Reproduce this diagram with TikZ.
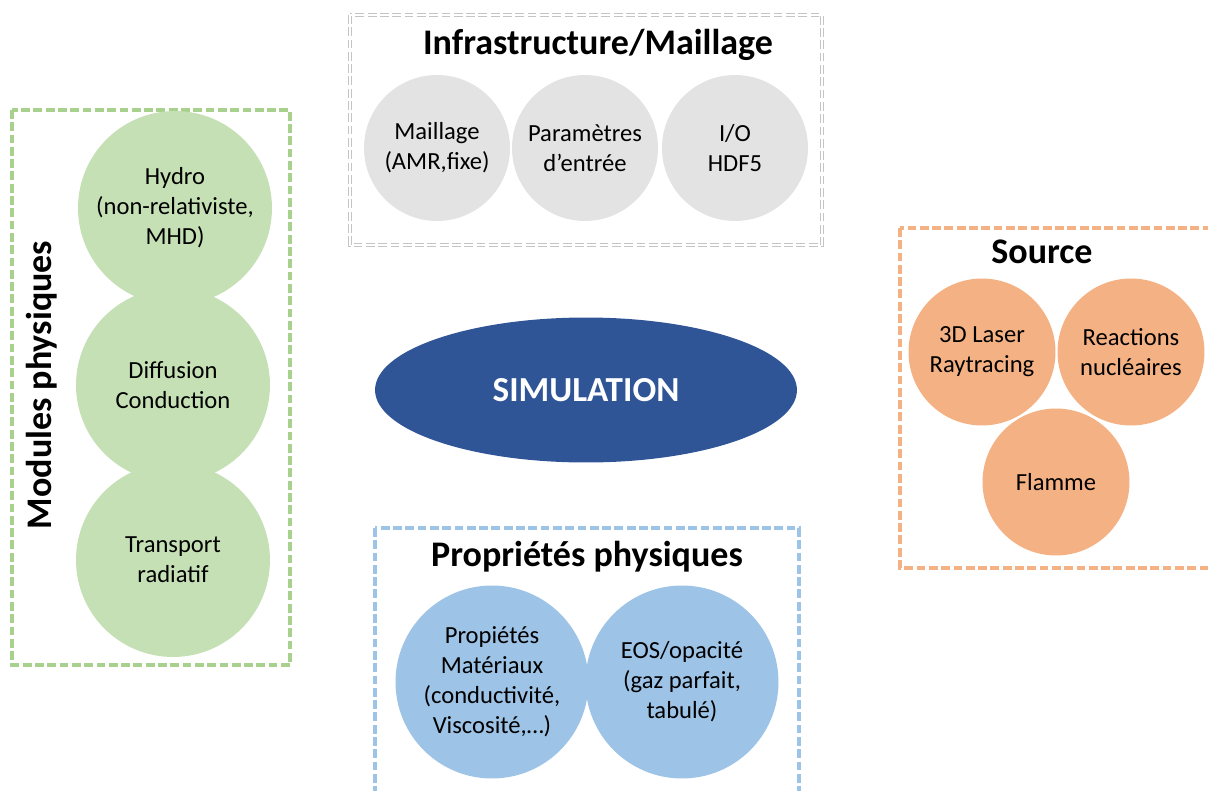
\documentclass[tikz,border=0pt]{standalone}
\usepackage{fontspec}
\setmainfont{Carlito}
\usetikzlibrary{shapes.geometric}
\definecolor{boxgray}{HTML}{C4C4C4}
\definecolor{fillgray}{HTML}{E3E3E3}
\definecolor{boxgreen}{HTML}{A9D18E}
\definecolor{fillgreen}{HTML}{C5E0B4}
\definecolor{fillorange}{HTML}{F4B183}
\definecolor{boxorange}{HTML}{F4B183}
\definecolor{fillblue}{HTML}{9DC3E6}
\definecolor{simblue}{HTML}{2F5597}
\tikzset{
	bubble/.style={circle, inner sep=0pt, align=center, font=\fontsize{14}{17}\selectfont},
	frame/.style={line width=2pt, dash pattern=on 5pt off 2pt},
	heading/.style={font=\fontsize{20.5}{22}\selectfont\bfseries},
}

\begin{document}
\begin{tikzpicture}[x=0.02cm, y=-0.02cm]
	\useasboundingbox (0,0) rectangle (1208,791);
	% cadres
	\draw [frame, draw=boxgray, line width=0.9pt, double=white, double distance=1pt] (350,15) rectangle (822,245);
	\draw [frame, draw=boxgreen] (12,110) rectangle (290,665);
	\draw [frame, draw=boxorange] (900,228) rectangle (1220,568);
	\draw [frame, draw=fillblue] (375,528) rectangle (799,800);
	% titres
	\node [heading] (tinfra) at (598,45) {Infrastructure/Maillage};
	\node [heading] (tsource) at (1042,252) {Source};
	\node [heading] (tprop) at (587,557) {Propriétés physiques};
	\node [heading, rotate=90] (tmod) at (42,385) {Modules physiques};
	% infrastructure
	\node [bubble, fill=fillgray, minimum size=2.92cm] (mesh) at (437,148) {Maillage\\(AMR,fixe)};
	\node [bubble, fill=fillgray, minimum size=2.92cm] (param) at (585,148) {Paramètres\\d’entrée};
	\node [bubble, fill=fillgray, minimum size=2.92cm] (io) at (735,148) {I/O\\HDF5};
	% modules physiques
	\node [bubble, fill=fillgreen, minimum size=3.88cm] (hydro) at (175,208) {Hydro\\(non-relativiste,\\MHD)};
	\node [bubble, fill=fillgreen, minimum size=3.88cm] (diff) at (173,385) {Diffusion\\Conduction};
	\node [bubble, fill=fillgreen, minimum size=3.88cm] (transp) at (173,560) {Transport\\radiatif};
	% source
	\node [bubble, fill=fillorange, minimum size=2.94cm] (laser) at (982,352) {3D Laser\\Raytracing};
	\node [bubble, fill=fillorange, minimum size=2.94cm] (react) at (1131,352) {Reactions\\nucléaires};
	\node [bubble, fill=fillorange, minimum size=2.94cm] (flamme) at (1056,482) {Flamme};
	% proprietes
	\node [bubble, fill=fillblue, minimum size=3.86cm] (mat) at (492,682) {Propiétés\\Matériaux\\(conductivité,\\Viscosité,…)};
	\node [bubble, fill=fillblue, minimum size=3.86cm] (eos) at (682,682) {EOS/opacité\\(gaz parfait,\\tabulé)};
	% simulation
	\node [ellipse, fill=simblue, text=white, minimum width=8.44cm, minimum height=2.9cm, font=\fontsize{20}{22}\selectfont\bfseries] (sim) at (586,390) {SIMULATION};
\end{tikzpicture}
\end{document}
